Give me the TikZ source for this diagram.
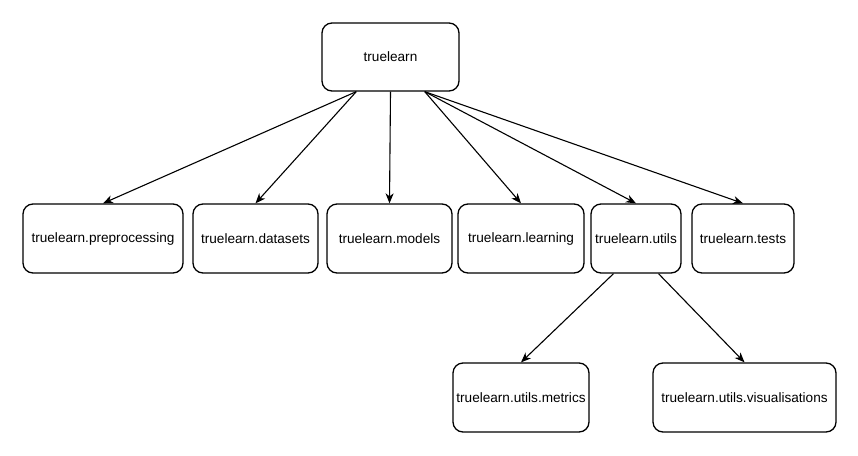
\documentclass[tikz,border=0pt]{standalone}
\usepackage{fontspec}
\setmainfont{Liberation Sans}
\usetikzlibrary{arrows.meta}

\begin{document}
\begin{tikzpicture}[x=1pt, y=-1pt]
	\tikzstyle{comp} = [
		rectangle, draw=black, line width=1.3pt, rounded corners=10pt,
		inner sep=0pt, font=\fontsize{13.6}{16}\selectfont
	]
	\tikzstyle{module} = [
		comp, minimum height=69pt
	]
	\tikzstyle{conn} = [
		-{Stealth[length=10pt, width=8pt, inset=3pt]}, line width=1.1pt
	]

	\useasboundingbox (0,0) rectangle (858,455);

	% Root package
	\node (truelearn) [comp, minimum width=137pt, minimum height=68pt] at (390.5,57) {truelearn}
		% Outputs unten
		coordinate [xshift=-34.25pt] (truelearn_out0) at (truelearn.south) % links
		coordinate                   (truelearn_out1) at (truelearn.south) % mitte
		coordinate [xshift=34.25pt]  (truelearn_out2) at (truelearn.south) % rechts
	;

	% Subpackages
	\node (preprocessing) [module, minimum width=160pt] at (103,238.5)   {truelearn.preprocessing};
	\node (datasets)      [module, minimum width=125pt] at (255.5,238.5) {truelearn.datasets};
	\node (models)        [module, minimum width=125pt] at (389.5,238.5) {truelearn.models};
	\node (learning)      [module, minimum width=126pt] at (521,238.5)   {truelearn.learning};
	\node (utils)         [module, minimum width=90pt]  at (636,238.5)   {truelearn.utils}
		% Outputs unten
		coordinate [xshift=-22.5pt] (utils_out0) at (utils.south) % links
		coordinate [xshift=22.5pt]  (utils_out1) at (utils.south) % rechts
	;
	\node (tests)         [module, minimum width=102pt] at (743,238.5)   {truelearn.tests};

	% Utils modules
	\node (metrics)        [module, minimum width=136pt] at (521,397.5)   {truelearn.utils.metrics};
	\node (visualisations) [module, minimum width=183pt] at (744.5,397.5) {truelearn.utils.visualisations};

	% truelearn -> subpackages
	\draw[conn] (truelearn_out0) -- (preprocessing.north);
	\draw[conn] (truelearn_out0) -- (datasets.north);
	\draw[conn] (truelearn_out1) -- (models.north);
	\draw[conn] (truelearn_out2) -- (learning.north);
	\draw[conn] (truelearn_out2) -- (utils.north);
	\draw[conn] (truelearn_out2) -- (tests.north);

	% utils -> modules
	\draw[conn] (utils_out0) -- (metrics.north);
	\draw[conn] (utils_out1) -- (visualisations.north);
\end{tikzpicture}
\end{document}
